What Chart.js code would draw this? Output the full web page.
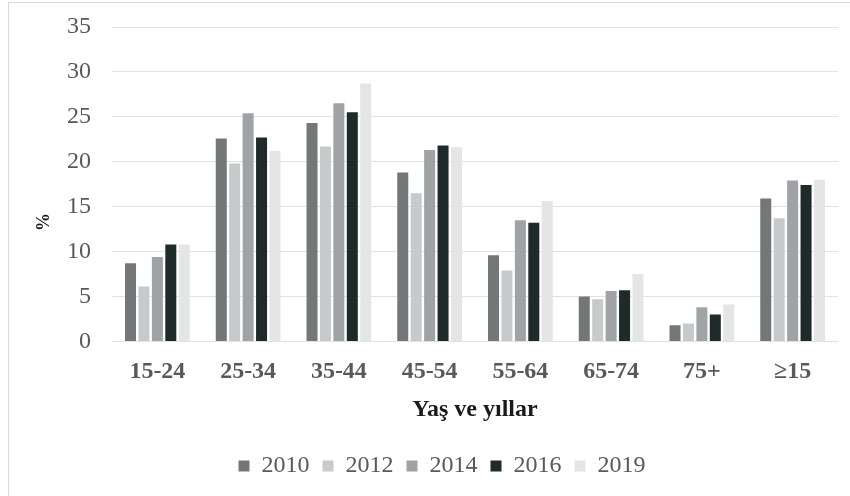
<!DOCTYPE html>
<html>
<head>
<meta charset="utf-8">
<script src="https://cdn.jsdelivr.net/npm/chart.js@4.4.1/dist/chart.umd.min.js"></script>
<style>
    html, body { margin: 0; padding: 0; background: #fff; overflow: hidden; }
    #wrap { position: relative; width: 850px; height: 496px; }
    #frame { position: absolute; left: 8px; top: 2px; width: 860px; height: 520px; border: 1px solid #d9d9d9; }
    canvas { position: absolute; left: 0; top: 0; }
</style>
</head>
<body>
<div id="wrap">
    <div id="frame"></div>
    <canvas id="chart" width="850" height="496"></canvas>
</div>
<script>
// yaş grupları ve yıllara göre oranlar (%)
const ageGroups = ['15-24', '25-34', '35-44', '45-54', '55-64', '65-74', '75+', '≥15'];
const years = ['2010', '2012', '2014', '2016', '2019'];
const colors = ['#737778', '#c8c9ca', '#a0a3a5', '#1f2a2a', '#e4e5e5'];

const v2010 = [8.7, 22.6, 24.3, 18.8, 9.6, 5.0, 1.8, 15.9];
const v2012 = [6.1, 19.8, 21.7, 16.5, 7.9, 4.7, 2.0, 13.7];
const v2014 = [9.4, 25.4, 26.5, 21.3, 13.5, 5.6, 3.8, 17.9];
const v2016 = [10.8, 22.7, 25.5, 21.8, 13.2, 5.7, 3.0, 17.4];
const v2019 = [10.8, 21.2, 28.7, 21.6, 15.6, 7.5, 4.1, 18.0];

const series = [v2010, v2012, v2014, v2016, v2019];
const serif = '"Liberation Serif", "Times New Roman", serif';

// dikey eksen başlığı ("%") biraz aşağıda duruyor, elle çiziliyor
const yTitle = {
    id: 'yTitle',
    afterDraw(chart) {
        const { ctx, chartArea } = chart;
        ctx.save();
        ctx.translate(chartArea.left - 68, chartArea.top + (chartArea.bottom - chartArea.top) * 0.62);
        ctx.rotate(-Math.PI / 2);
        ctx.font = 'bold 18px ' + serif;
        ctx.fillStyle = '#1a1a1a';
        ctx.textAlign = 'center';
        ctx.textBaseline = 'middle';
        ctx.fillText('%', 0, 0);
        ctx.restore();
    }
};

new Chart(document.getElementById('chart'), {
    type: 'bar',
    data: {
        labels: ageGroups,
        datasets: years.map((y, i) => ({
            label: y,
            data: series[i],
            backgroundColor: colors[i],
            borderWidth: 0,
            categoryPercentage: 0.74,
            barPercentage: 0.82
        }))
    },
    options: {
        responsive: false,
        animation: false,
        layout: { padding: { left: 46, right: 12, top: 27, bottom: 8 } },
        plugins: {
            legend: {
                position: 'bottom',
                labels: {
                    boxWidth: 11,
                    boxHeight: 11,
                    padding: 13,
                    color: '#595959',
                    font: { family: serif, size: 24 }
                }
            },
            tooltip: { enabled: false }
        },
        scales: {
            x: {
                grid: { display: false },
                border: { display: false },
                ticks: {
                    padding: 8,
                    color: '#595959',
                    font: { family: serif, size: 24, weight: 'bold' }
                },
                title: {
                    display: true,
                    text: 'Yaş ve yıllar',
                    color: '#1a1a1a',
                    font: { family: serif, size: 24, weight: 'bold' },
                    padding: { top: 1, bottom: 17 }
                }
            },
            y: {
                min: 0,
                max: 35,
                // tick padding'i üst boşluğa eklenmesin
                afterFit(scale) { scale.paddingTop = 0; },
                ticks: {
                    stepSize: 5,
                    padding: 21,
                    color: '#595959',
                    font: { family: serif, size: 24 }
                },
                grid: { color: '#e2e2e2', lineWidth: 1, drawTicks: false },
                border: { display: false }
            }
        }
    },
    plugins: [yTitle]
});
</script>
</body>
</html>
